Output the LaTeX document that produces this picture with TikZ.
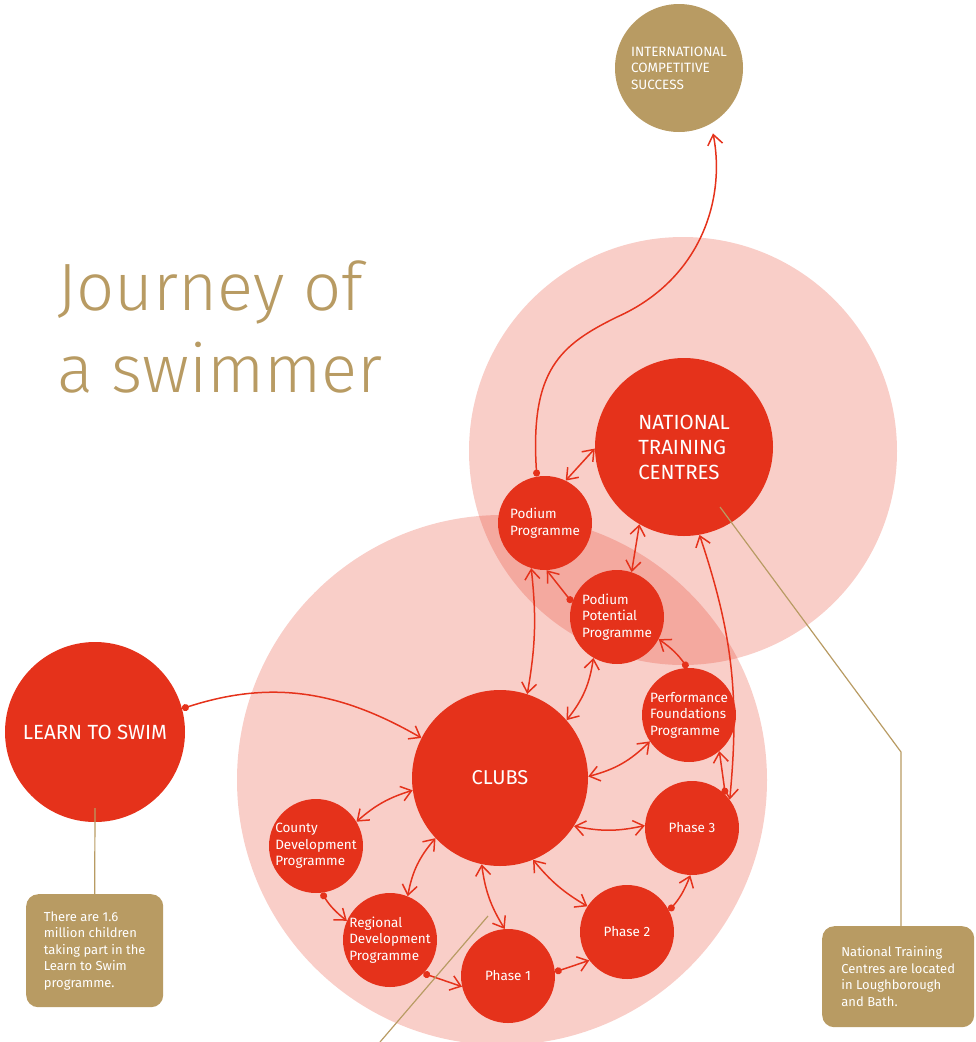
\documentclass[tikz,border=0pt]{standalone}
\usepackage{fontspec}
\setmainfont{Fira Sans}
\newfontfamily\titlefont{Fira Sans Light}
\usepackage{tikz}
\usetikzlibrary{arrows.meta}

\definecolor{swimred}{HTML}{E5321B}
\definecolor{swimgold}{HTML}{B89B63}

\begin{document}
\begin{tikzpicture}[x=1pt, y=-1pt,
    stage/.style={circle, fill=swimred, text=white, minimum size=94pt, inner sep=0pt,
        align=left, font=\fontsize{13.5}{16.5}\selectfont},
    hub/.style={stage, minimum size=178pt, font=\fontsize{20.5}{25}\selectfont},
    zone/.style={fill=swimred, fill opacity=0.24},
    note/.style={fill=swimgold, text=white, rounded corners=12pt, anchor=north west,
        minimum width=137pt, minimum height=113pt, align=left,
        font=\fontsize{13}{16.5}\selectfont},
    heading/.style={text=swimgold, anchor=base west, inner sep=0pt,
        font=\titlefont\fontsize{67}{80}\selectfont},
    link/.style={draw=swimred, line width=1.5pt},
    both/.style={link, {Straight Barb[length=10pt,width=15pt]}-{Straight Barb[length=10pt,width=15pt]}},
    feed/.style={link, {Circle[length=7pt]}-{Straight Barb[length=10pt,width=15pt]}},
    callout/.style={draw=swimgold, line width=1.2pt}]

    \useasboundingbox (0,0) rectangle (976,1042);

    % Title
    \node[heading] (title1) at (57,310) {Journey of};
    \node[heading] (title2) at (57,392) {a swimmer};

    % Pale zones
    \fill[zone] (683,451) circle[radius=214];
    \fill[zone] (502,780) circle[radius=265];

    % Stages
    \node[stage, fill=swimgold, minimum size=128pt, font=\fontsize{13.5}{16.5}\selectfont]
        (ics) at (679,68) {INTERNATIONAL\\COMPETITIVE\\SUCCESS};
    \node[hub] (ntc) at (684,447) {NATIONAL\\TRAINING\\CENTRES};
    \node[hub, minimum size=176pt, font=\fontsize{20}{24}\selectfont] (clubs) at (500,778) {CLUBS};
    \node[hub, minimum size=180pt, font=\fontsize{20.5}{24}\selectfont] (lts) at (95,732) {LEARN TO SWIM};
    \node[stage] (pod) at (545,523) {Podium\\Programme};
    \node[stage] (ppp) at (617,617) {Podium\\Potential\\Programme};
    \node[stage] (pfp) at (689,715) {Performance\\Foundations\\Programme};
    \node[stage] (ph3) at (692,828) {Phase 3};
    \node[stage] (ph2) at (627,932) {Phase 2};
    \node[stage] (ph1) at (508,976) {Phase 1};
    \node[stage] (reg) at (390,940) {Regional\\Development\\Programme};
    \node[stage] (cty) at (316,846) {County\\Development\\Programme};

    % Notes
    \node[note] (ltsnote) at (26,894) {There are 1.6\\million children\\taking part in the\\Learn to Swim\\programme.};
    \node[note, minimum width=152pt, minimum height=101pt] (ntcnote) at (822,926)
        {National Training\\Centres are located\\in Loughborough\\and Bath.};

    % One-way links
    \draw[feed, shorten >=10pt] (pod.100) .. controls (530,370) and (560,345) .. (617,317)
        .. controls (700,280) and (726,200) .. (ics.300);
    \draw[feed] (lts.15) to[out=18, in=150] (clubs.153);
    \draw[feed] (ppp.162) -- (pod.272);
    \draw[feed] (pfp.92) to[bend right=10] (ppp.332);
    \draw[feed] (ph3.45) -- (pfp.310);
    \draw[feed] (cty.277) to[bend right=10] (reg.156);
    \draw[feed] (reg.315) -- (ph1.193);
    \draw[feed] (ph1.5) -- (ph2.217);
    \draw[feed] (ph2.27) to[bend right=10] (ph3.268);

    % Two-way links
    \draw[both] (pod.64) -- (ntc.181);
    \draw[both] (ntc.240) -- (ppp.72);
    \draw[both] (ntc.280) to[bend left=12] (ph3.37);
    \draw[both] (pod.253) to[bend left=8] (clubs.72);
    \draw[both] (ppp.240) to[bend left=15] (clubs.41);
    \draw[both] (pfp.214) to[bend left=15] (clubs.1);
    \draw[both] (ph3.177) to[bend left=12] (clubs.327);
    \draw[both] (ph2.147) to[bend left=10] (clubs.292);
    \draw[both] (ph1.94) to[bend left=12] (clubs.258);
    \draw[both] (reg.68) to[bend left=15] (clubs.223);
    \draw[both] (cty.31) to[bend left=12] (clubs.188);

    % Callout lines
    \coordinate (ntcbend) at (901,752);
    \coordinate (cuttop) at (488,916);
    \coordinate (cutend) at (380,1042);
    \draw[callout] ([yshift=14pt]lts.south) -- (ltsnote.north);
    \draw[callout] ([shift={(36,60)}]ntc.center) -- (ntcbend) -- (ntcbend |- ntcnote.north);
    \draw[callout] (cuttop) -- (cutend);
\end{tikzpicture}
\end{document}
